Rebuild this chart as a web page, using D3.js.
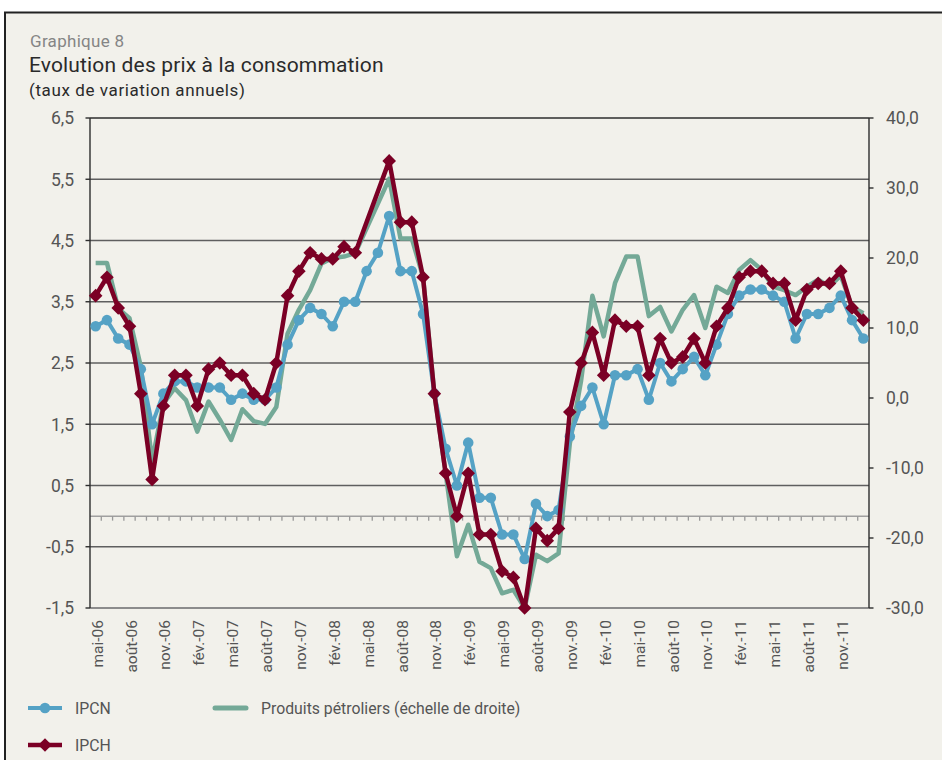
<!DOCTYPE html>
<html>
<head>
<meta charset="utf-8">
<script src="https://cdn.jsdelivr.net/npm/d3@7"></script>
<style>
  html, body { margin: 0; padding: 0; background: #ffffff; }
  svg { display: block; font-family: Roboto, "Noto Sans", sans-serif; }
</style>
</head>
<body>
<svg id="chart" width="942" height="760"></svg>
<script>
// ---------- DATA ----------
const months = [
  "mai-06","juin-06","juil.-06","août-06","sept.-06","oct.-06","nov.-06","déc.-06",
  "janv.-07","fév.-07","mars-07","avr.-07","mai-07","juin-07","juil.-07","août-07","sept.-07","oct.-07","nov.-07","déc.-07",
  "janv.-08","fév.-08","mars-08","avr.-08","mai-08","juin-08","juil.-08","août-08","sept.-08","oct.-08","nov.-08","déc.-08",
  "janv.-09","fév.-09","mars-09","avr.-09","mai-09","juin-09","juil.-09","août-09","sept.-09","oct.-09","nov.-09","déc.-09",
  "janv.-10","fév.-10","mars-10","avr.-10","mai-10","juin-10","juil.-10","août-10","sept.-10","oct.-10","nov.-10","déc.-10",
  "janv.-11","fév.-11","mars-11","avr.-11","mai-11","juin-11","juil.-11","août-11","sept.-11","oct.-11","nov.-11","déc.-11",
  "janv.-12"
];

const ipcn = [
  3.1, 3.2, 2.9, 2.8, 2.4, 1.5, 2.0, 2.2, 2.2, 2.1, 2.1, 2.1, 1.9, 2.0, 1.9, 1.9, 2.1, 2.8, 3.2, 3.4,
  3.3, 3.1, 3.5, 3.5, 4.0, 4.3, 4.9, 4.0, 4.0, 3.3, 2.0, 1.1, 0.5, 1.2, 0.3, 0.3, -0.3, -0.3, -0.7, 0.2,
  0.0, 0.1, 1.3, 1.8, 2.1, 1.5, 2.3, 2.3, 2.4, 1.9, 2.5, 2.2, 2.4, 2.6, 2.3, 2.8, 3.3, 3.6, 3.7, 3.7,
  3.6, 3.5, 2.9, 3.3, 3.3, 3.4, 3.6, 3.2, 2.9
];

const ipch = [
  3.6, 3.9, 3.4, 3.1, 2.0, 0.6, 1.8, 2.3, 2.3, 1.8, 2.4, 2.5, 2.3, 2.3, 2.0, 1.9, 2.5, 3.6, 4.0, 4.3,
  4.2, 4.2, 4.4, 4.3, null, null, 5.8, 4.8, 4.8, 3.9, 2.0, 0.7, 0.0, 0.7, -0.3, -0.3, -0.9, -1.0, -1.5, -0.2,
  -0.4, -0.2, 1.7, 2.5, 3.0, 2.3, 3.2, 3.1, 3.1, 2.3, 2.9, 2.5, 2.6, 2.9, 2.5, 3.1, 3.4, 3.9, 4.0, 4.0,
  3.8, 3.8, 3.2, 3.7, 3.8, 3.8, 4.0, 3.4, 3.2
];

// Produits pétroliers (échelle de droite)
const petrol = [
  19.3, 19.3, 12.8, 11.4, 4.5, -9.0, -0.8, 1.4, -0.3, -4.8, -0.5, -3.1, -6.0, -1.6, -3.3, -3.7, -1.3, 9.2, 12.6, 15.4,
  19.2, 20.0, 20.2, 20.7, null, null, 31.3, 22.8, 22.8, 17.3, 0.7, -10.7, -22.6, -18.1, -23.4, -24.3, -27.9, -27.4, -30.0, -22.4,
  -23.3, -22.2, -6.5, 2.5, 14.6, 8.8, 16.4, 20.2, 20.2, 11.7, 13.0, 9.5, 12.6, 14.7, 10.0, 15.9, 15.0, 18.3, 19.7, 18.3,
  15.9, 15.4, 14.7, 15.9, 16.9, 15.9, 17.5, 13.0, 12.1
];

const leftTicks = [-1.5, -0.5, 0.5, 1.5, 2.5, 3.5, 4.5, 5.5, 6.5];
const rightTicks = [-30, -20, -10, 0, 10, 20, 30, 40];

const seriesNames = ["IPCN", "Produits pétroliers (échelle de droite)", "IPCH"];

// ---------- STYLE ----------
const C_BG = "#f2f1eb";
const C_BLUE = "#55a2c5";
const C_RED = "#7b0025";
const C_GREEN = "#74a997";
const C_TEXT = "#555555";

const svg = d3.select("#chart");
const W = 942, H = 760;
const plot = { left: 90, right: 869, top: 118, bottom: 608 };

// frame
svg.append("rect").attr("x", 0).attr("y", 0).attr("width", W).attr("height", H).attr("fill", "#ffffff");
svg.append("rect").attr("x", 5).attr("y", 12).attr("width", W - 5).attr("height", H - 12).attr("fill", C_BG);
svg.append("line").attr("x1", 4).attr("x2", W).attr("y1", 12.5).attr("y2", 12.5).attr("stroke", "#222").attr("stroke-width", 2);
svg.append("line").attr("x1", 5).attr("x2", 5).attr("y1", 12).attr("y2", H).attr("stroke", "#222").attr("stroke-width", 2);

// titles
svg.append("text").attr("x", 30).attr("y", 47).attr("font-size", 17).attr("letter-spacing", 0.3)
  .attr("fill", "#858585").text("Graphique 8");
svg.append("text").attr("x", 29).attr("y", 72).attr("font-size", 21).attr("letter-spacing", 0.15)
  .attr("fill", "#2a2a2a").text("Evolution des prix à la consommation");
svg.append("text").attr("x", 29).attr("y", 96).attr("font-size", 17).attr("letter-spacing", 0.6)
  .attr("fill", "#2a2a2a").text("(taux de variation annuels)");

// scales
const x = d3.scaleBand().domain(d3.range(months.length)).range([plot.left, plot.right]).paddingInner(0).paddingOuter(0);
const cx = i => x(i) + x.bandwidth() / 2;
const yL = d3.scaleLinear().domain([-1.5, 6.5]).range([plot.bottom, plot.top]);
const yR = d3.scaleLinear().domain([-30, 40]).range([plot.bottom, plot.top]);

const fmt = v => d3.format(".1f")(v).replace(".", ",").replace("−", "-");

// gridlines
svg.append("g").selectAll("line").data(leftTicks).join("line")
  .attr("x1", plot.left).attr("x2", plot.right)
  .attr("y1", d => yL(d)).attr("y2", d => yL(d))
  .attr("stroke", d => d === 6.5 ? "#2d2d2d" : (d === -1.5 ? "#8c8c8c" : "#5f5f5f"))
  .attr("stroke-width", d => d === -1.5 ? 2 : 1.4);

// zero line (category axis) with monthly ticks
const y0 = yL(0);
svg.append("line").attr("x1", plot.left).attr("x2", plot.right).attr("y1", y0).attr("y2", y0)
  .attr("stroke", "#a0a0a0").attr("stroke-width", 1.5);
svg.append("g").selectAll("line").data(d3.range(1, months.length)).join("line")
  .attr("x1", d => x(d)).attr("x2", d => x(d))
  .attr("y1", y0).attr("y2", y0 + 4.5)
  .attr("stroke", "#999").attr("stroke-width", 1.3);

// left axis
svg.append("line").attr("x1", plot.left).attr("x2", plot.left).attr("y1", plot.top).attr("y2", plot.bottom)
  .attr("stroke", "#2d2d2d").attr("stroke-width", 1.4);
svg.append("g").selectAll("line").data(leftTicks).join("line")
  .attr("x1", plot.left - 4.5).attr("x2", plot.left).attr("y1", d => yL(d)).attr("y2", d => yL(d))
  .attr("stroke", "#2d2d2d").attr("stroke-width", 1.4);
svg.append("g").selectAll("text").data(leftTicks).join("text")
  .attr("x", 74).attr("y", d => yL(d)).attr("dy", "0.36em").attr("text-anchor", "end")
  .attr("font-size", 17.5).attr("fill", C_TEXT).text(fmt);

// right axis
svg.append("line").attr("x1", plot.right).attr("x2", plot.right).attr("y1", plot.top).attr("y2", plot.bottom)
  .attr("stroke", "#2d2d2d").attr("stroke-width", 1.4);
svg.append("g").selectAll("line").data(rightTicks).join("line")
  .attr("x1", plot.right).attr("x2", plot.right + 4.5).attr("y1", d => yR(d)).attr("y2", d => yR(d))
  .attr("stroke", "#2d2d2d").attr("stroke-width", 1.4);
svg.append("g").selectAll("text").data(rightTicks).join("text")
  .attr("x", 886).attr("y", d => yR(d)).attr("dy", "0.36em").attr("text-anchor", "start")
  .attr("font-size", 17.5).attr("fill", C_TEXT).text(fmt);

// x labels every 3 months
svg.append("g").selectAll("text").data(d3.range(0, months.length, 3)).join("text")
  .attr("transform", d => `translate(${cx(d) + 1.5},620) rotate(-90)`)
  .attr("dy", "0.36em").attr("text-anchor", "end")
  .attr("font-size", 15.5).attr("fill", C_TEXT).text(d => months[d]);

// series lines
function pts(arr, scale) {
  return arr.map((v, i) => ({ i, v })).filter(d => d.v !== null).map(d => [cx(d.i), scale(d.v), d]);
}
const lineGen = d3.line().x(d => d[0]).y(d => d[1]);

svg.append("path").attr("d", lineGen(pts(petrol, yR))).attr("fill", "none")
  .attr("stroke", C_GREEN).attr("stroke-width", 4.5).attr("stroke-linejoin", "round");

svg.append("path").attr("d", lineGen(pts(ipcn, yL))).attr("fill", "none")
  .attr("stroke", C_BLUE).attr("stroke-width", 4).attr("stroke-linejoin", "round");
svg.append("g").selectAll("circle").data(pts(ipcn, yL)).join("circle")
  .attr("cx", d => d[0]).attr("cy", d => d[1]).attr("r", 5.3).attr("fill", C_BLUE);

const diamond = "M0,-6.8L6.8,0L0,6.8L-6.8,0Z";
svg.append("path").attr("d", lineGen(pts(ipch, yL))).attr("fill", "none")
  .attr("stroke", C_RED).attr("stroke-width", 4.5).attr("stroke-linejoin", "round");
svg.append("g").selectAll("path").data(pts(ipch, yL)).join("path")
  .attr("d", diamond).attr("transform", d => `translate(${d[0]},${d[1]})`).attr("fill", C_RED);

// legend
const lg = svg.append("g");
lg.append("line").attr("x1", 28).attr("x2", 62).attr("y1", 708).attr("y2", 708).attr("stroke", C_BLUE).attr("stroke-width", 4);
lg.append("circle").attr("cx", 45).attr("cy", 708).attr("r", 5.3).attr("fill", C_BLUE);
lg.append("text").attr("x", 75).attr("y", 708).attr("dy", "0.36em").attr("font-size", 15.8).attr("fill", C_TEXT).text(seriesNames[0]);

lg.append("line").attr("x1", 215).attr("x2", 246).attr("y1", 708).attr("y2", 708).attr("stroke", C_GREEN)
  .attr("stroke-width", 5).attr("stroke-linecap", "round");
lg.append("text").attr("x", 261).attr("y", 708).attr("dy", "0.36em").attr("font-size", 15.8).attr("fill", C_TEXT).text(seriesNames[1]);

lg.append("line").attr("x1", 28).attr("x2", 62).attr("y1", 745).attr("y2", 745).attr("stroke", C_RED).attr("stroke-width", 4.5);
lg.append("path").attr("d", diamond).attr("transform", "translate(45,745)").attr("fill", C_RED);
lg.append("text").attr("x", 75).attr("y", 745).attr("dy", "0.36em").attr("font-size", 15.8).attr("fill", C_TEXT).text(seriesNames[2]);
</script>
</body>
</html>
